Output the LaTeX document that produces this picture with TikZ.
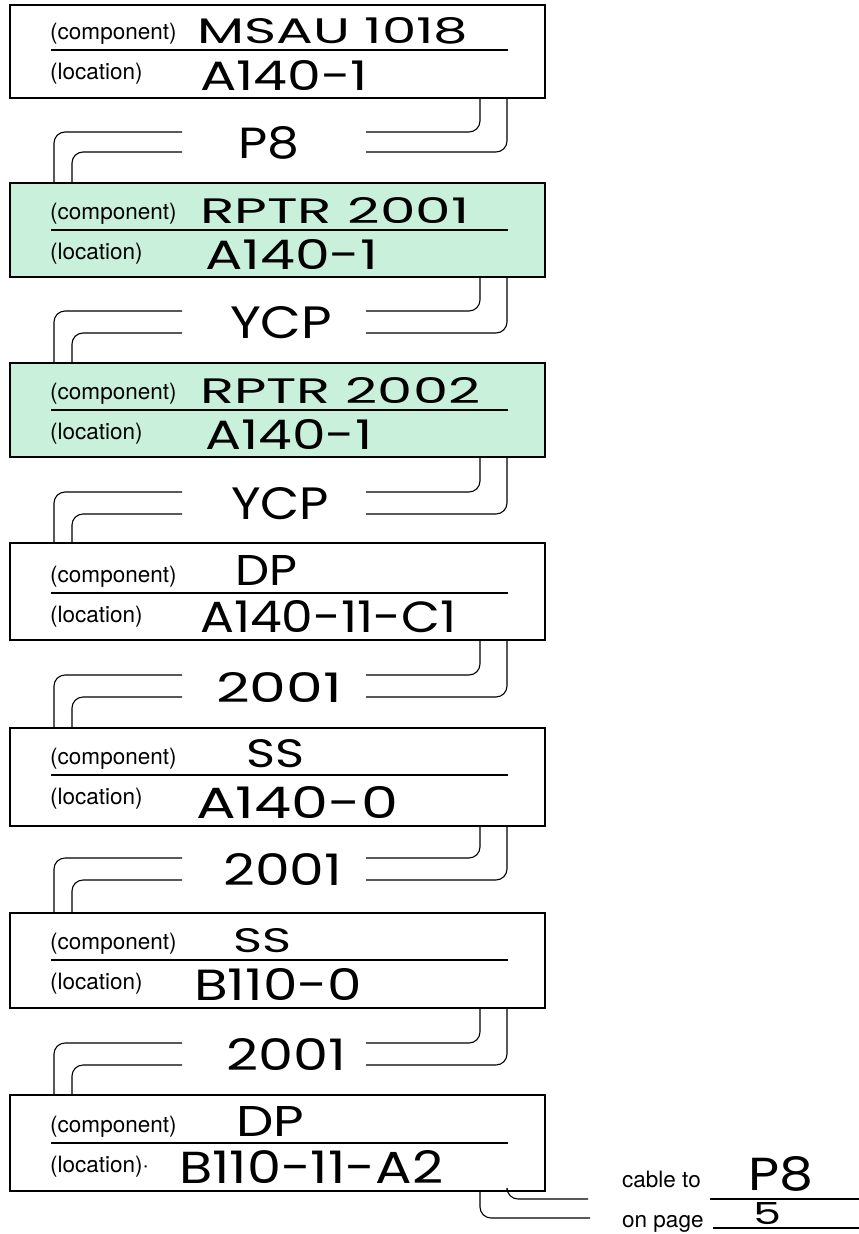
\documentclass[tikz,border=0pt]{standalone}
\usepackage{fontspec}
\usepackage{graphicx}
\setsansfont{TeX Gyre Heros}
\newfontfamily\hwfont{Poppins}
\definecolor{formgreen}{RGB}{200,240,218}
\tikzset{
  formbox/.style={draw=black, line width=1.6pt, anchor=north west, minimum width=535pt, inner sep=0pt, outer sep=0pt},
  divline/.style={line width=1.1pt},
  wire/.style={line width=1.1pt, rounded corners=11pt},
  caption/.style={font=\sffamily\fontsize{22.5}{22.5}\selectfont, anchor=base west, inner sep=0pt},
  hand/.style={anchor=base west, inner sep=0pt},
}
\newcommand\hw[3]{\resizebox{#1pt}{#2pt}{\hwfont #3}}
% #1 upper box, #2 lower box, #3 U, #4 L, #5 name
\newcommand\cablegap[5]{%
  \coordinate (#5ru) at (366,#3); \coordinate (#5rl) at (366,#4);
  \coordinate (#5lu) at (182,#3); \coordinate (#5ll) at (182,#4);
  \draw[wire] ([xshift=470pt]#1.south west) |- (#5ru);
  \draw[wire] ([xshift=497pt]#1.south west) |- (#5rl);
  \draw[wire] (#5lu) -| ([xshift=44pt]#2.north west);
  \draw[wire] (#5ll) -| ([xshift=62pt]#2.north west);
}
\begin{document}
\begin{tikzpicture}[x=1pt,y=-1pt]
\useasboundingbox (0,0) rectangle (859,1234);

% boxes
\node[formbox, minimum height=93pt] (b1) at (10,5) {};
\node[formbox, minimum height=94pt, fill=formgreen] (b2) at (10,183) {};
\node[formbox, minimum height=94pt, fill=formgreen] (b3) at (10,363) {};
\node[formbox, minimum height=97pt] (b4) at (10,543) {};
\node[formbox, minimum height=98pt] (b5) at (10,728) {};
\node[formbox, minimum height=95pt] (b6) at (10,913) {};
\node[formbox, minimum height=96pt] (b7) at (10,1095) {};

% dividers
\foreach \d in {50,230,410,593,775,960,1143}
  \draw[divline] (51,\d) -- (508,\d);

% captions
\node[caption] (c1) at (50,39) {(component)};
\node[caption] (l1) at (50,79) {(location)};
\node[caption] (c2) at (50,219) {(component)};
\node[caption] (l2) at (50,259) {(location)};
\node[caption] (c3) at (50,399) {(component)};
\node[caption] (l3) at (50,439) {(location)};
\node[caption] (c4) at (50,582) {(component)};
\node[caption] (l4) at (50,622) {(location)};
\node[caption] (c5) at (50,764) {(component)};
\node[caption] (l5) at (50,804) {(location)};
\node[caption] (c6) at (50,949) {(component)};
\node[caption] (l6) at (50,989) {(location)};
\node[caption] (c7) at (50,1132) {(component)};
\node[caption] (l7) at (50,1172) {(location)\textperiodcentered};

% handwritten values
\node[hand] (v1c) at (197,43) {\hw{271}{26}{MSAU 1018}};
\node[hand] (v1l) at (200,90) {\hw{168}{30}{A140-1}};
\node[hand] (v2c) at (200,223) {\hw{269}{26}{RPTR 2001}};
\node[hand] (v2l) at (205,269) {\hw{173}{30}{A140-1}};
\node[hand] (v3c) at (200,403) {\hw{280}{26}{RPTR 2002}};
\node[hand] (v3l) at (205,449) {\hw{167}{30}{A140-1}};
\node[hand] (v4c) at (235,585) {\hw{62}{30}{DP}};
\node[hand] (v4l) at (200,632) {\hw{256}{32}{A140-11-C1}};
\node[hand] (v5c) at (246,767) {\hw{58}{28}{SS}};
\node[hand] (v5l) at (196,818) {\hw{202}{32}{A140-0}};
\node[hand] (v6c) at (233,952) {\hw{58}{24}{SS}};
\node[hand] (v6l) at (194,1000) {\hw{168}{32}{B110-0}};
\node[hand] (v7c) at (236,1136) {\hw{68}{30}{DP}};
\node[hand] (v7l) at (179,1183) {\hw{264}{33}{B110-11-A2}};

% cable labels
\node[hand] (g1) at (238,158) {\hw{61}{32}{P8}};
\node[hand] (g2) at (230,338) {\hw{102}{32}{YCP}};
\node[hand] (g3) at (231,519) {\hw{98}{32}{YCP}};
\node[hand] (g4) at (216,702) {\hw{126}{30}{2001}};
\node[hand] (g5) at (223,885) {\hw{119}{32}{2001}};
\node[hand] (g6) at (226,1070) {\hw{120}{32}{2001}};

% cables
\cablegap{b1}{b2}{132}{152}{k1}
\cablegap{b2}{b3}{311}{333}{k2}
\cablegap{b3}{b4}{492}{514}{k3}
\cablegap{b4}{b5}{675}{697}{k4}
\cablegap{b5}{b6}{858}{880}{k5}
\cablegap{b6}{b7}{1043}{1065}{k6}

% outgoing cable
\coordinate (e1) at (588,1199);
\coordinate (e2) at (590,1218);
\draw[wire] ([xshift=497pt]b7.south west) |- (e1);
\draw[wire] ([xshift=470pt]b7.south west) |- (e2);

% cable to / on page
\node[caption] (ct) at (622,1187) {cable to};
\node[caption] (op) at (622,1227) {on page};
\coordinate (u1a) at (710,1199); \coordinate (u1b) at (859,1199);
\coordinate (u2a) at (713,1228); \coordinate (u2b) at (859,1228);
\draw[divline] (u1a) -- (u1b);
\draw[divline] (u2a) -- (u2b);
\node[hand] (ctv) at (748,1190) {\hw{65}{34}{P8}};
\node[hand] (opv) at (753,1224) {\hw{28}{22}{5}};
\end{tikzpicture}
\end{document}
